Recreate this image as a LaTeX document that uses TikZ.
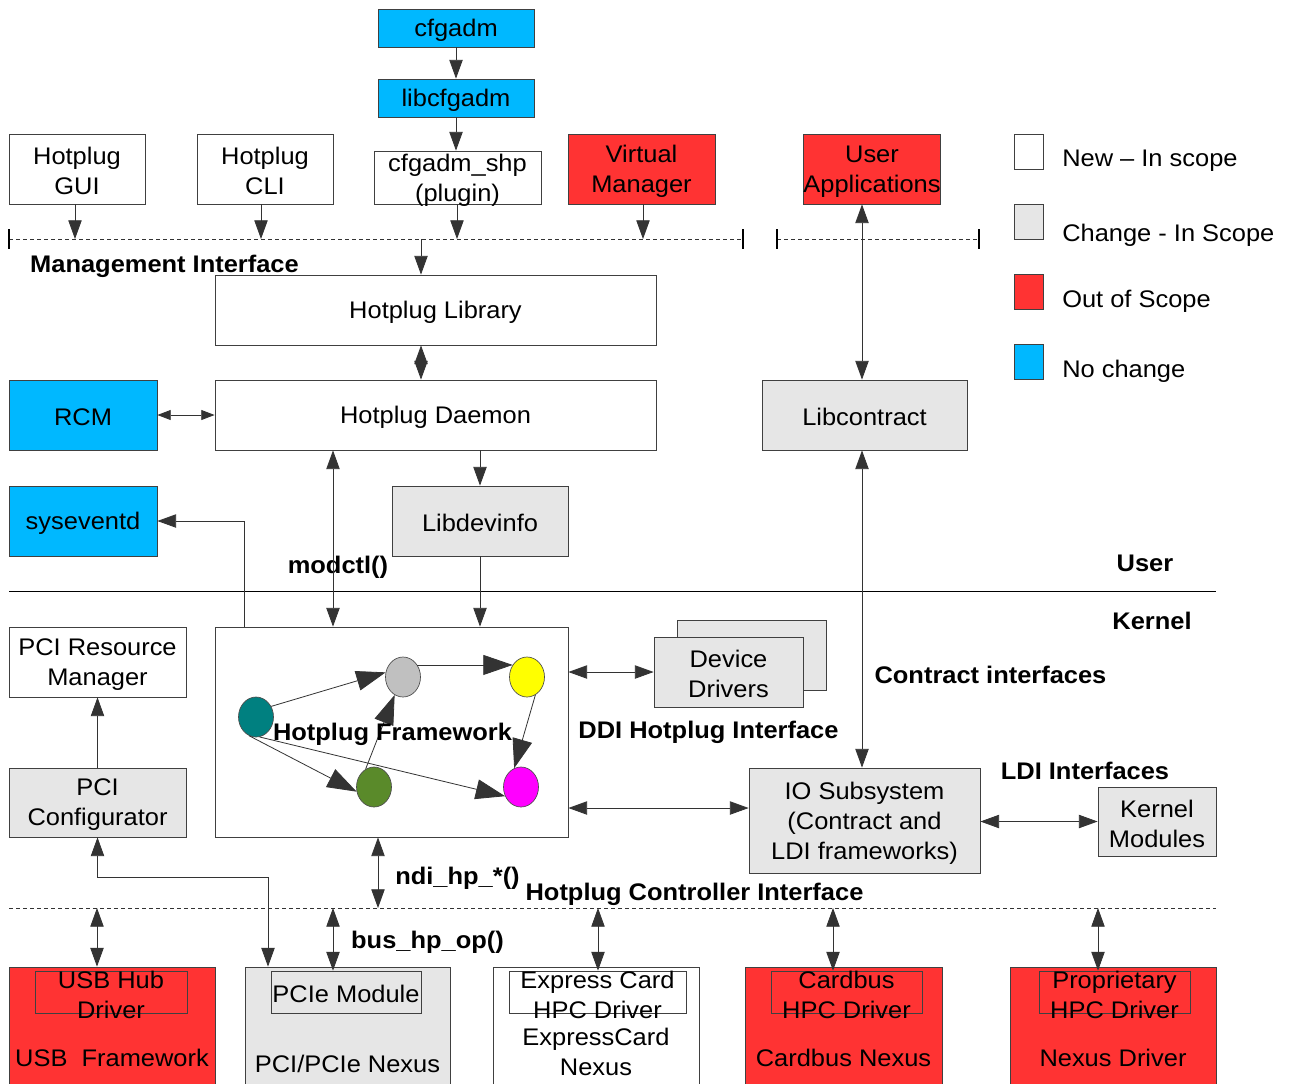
\documentclass[tikz,border=0pt]{standalone}
\usepackage{fontspec}
\setmainfont{Liberation Sans}[FakeStretch=1.06]
\usetikzlibrary{arrows.meta,shapes.geometric,calc}
\definecolor{cyanC}{HTML}{00B8FF}
\definecolor{redC}{HTML}{FF3333}
\definecolor{grayC}{HTML}{E6E6E6}
\definecolor{tealC}{HTML}{008080}
\definecolor{silverC}{HTML}{C0C0C0}
\definecolor{yellowC}{HTML}{FFFF00}
\definecolor{oliveC}{HTML}{5A8A2A}
\definecolor{magC}{HTML}{FF00FF}
\begin{document}
\begin{tikzpicture}[x=0.75pt,y=-0.75pt,
  every node/.style={font=\fontsize{18}{22.5}\selectfont},
  sz/.style 2 args={minimum width=#1*0.75pt, minimum height=#2*0.75pt},
  bx/.style={draw=black!75, line width=0.6pt, inner sep=0pt, align=center, rectangle},
  txt/.style={inner sep=0pt, align=center, yshift=-1.8pt},
  tx/.style={label={[txt]center:{#1}}},
  lbl/.style={font=\fontsize{18}{22.5}\selectfont\bfseries, inner sep=0pt, yshift=-1.8pt},
  con/.style={draw=black!80, line width=0.6pt},
  >={Triangle[length=14pt,width=10pt]},
  sm/.style={con, {Triangle[length=10pt,width=7.5pt]}-{Triangle[length=10pt,width=7.5pt]}},
  big/.style={con, -{Triangle[length=22pt,width=15pt]}},
  dline/.style={draw=black!80, line width=0.5pt, dash pattern=on 3pt off 2.25pt},
  tick/.style={draw=black, line width=1.2pt},
  circ/.style={ellipse, draw=black!70, line width=0.5pt, minimum width=26.25pt, minimum height=30pt, inner sep=0pt}
]
\useasboundingbox (0,0) rectangle (1289,1083);
\clip (0,0) rectangle (1289,1083);
\fill[white] (0,0) rectangle (1289,1083);

% ---------- top boxes ----------
\node[bx, fill=cyanC, sz={156}{38}, tx={cfgadm}] (cfgadm) at (456,28) {};
\node[bx, fill=cyanC, sz={156}{38}, tx={libcfgadm}] (libcfg) at (456,98) {};
\node[bx, sz={167}{53}] (shp) at (457.5,177.5) {};
\node[txt] (shpt) at (457.5,178) {cfgadm\_shp\\(plugin)};
\node[bx, sz={136}{70}, tx={Hotplug\\GUI}] (gui) at (77,169) {};
\node[bx, sz={136}{70}, tx={Hotplug\\CLI}] (cli) at (265,169) {};
\node[bx, fill=redC, sz={147}{70}, tx={Virtual\\Manager}] (vm) at (641.5,169) {};
\node[bx, fill=redC, sz={137}{70}] (ua) at (871.5,169) {};
\node[txt] (uat) at (872,169) {User\\Applications};

% ---------- legend ----------
\node[bx, sz={29}{35}] (lg1) at (1028.5,151.5) {};
\node[bx, fill=grayC, sz={29}{35}] (lg2) at (1028.5,221.5) {};
\node[bx, fill=redC, sz={29}{35}] (lg3) at (1028.5,291.5) {};
\node[bx, fill=cyanC, sz={29}{35}] (lg4) at (1028.5,361.5) {};
\node[txt, anchor=west] (lt1) at (1062,158) {New – In scope};
\node[txt, anchor=west] (lt2) at (1062,233) {Change - In Scope};
\node[txt, anchor=west] (lt3) at (1062,299) {Out of Scope};
\node[txt, anchor=west] (lt4) at (1062,369) {No change};

% ---------- management interface line ----------
\coordinate (mL) at (9,239);
\coordinate (mR) at (743,239);
\coordinate (nL) at (777,239);
\coordinate (nR) at (979,239);
\coordinate (m421) at (421,239);
\draw[dline] (mL) -- (mR);
\draw[dline] (nL) -- (nR);
\draw[tick] ($(mL)+(0,-10)$) -- ($(mL)+(0,10)$);
\draw[tick] ($(mR)+(0,-10)$) -- ($(mR)+(0,10)$);
\draw[tick] ($(nL)+(0,-10)$) -- ($(nL)+(0,10)$);
\draw[tick] ($(nR)+(0,-10)$) -- ($(nR)+(0,10)$);
\node[lbl] (mgmt) at (164.5,264) {Management Interface};

\draw[con,->] (cfgadm) -- (libcfg);
\draw[con,->] (libcfg) -- (shp.north -| libcfg.south);
\draw[con,->] (gui.south -| 75,0) -- (mL -| 75,0);
\draw[con,->] (cli.south -| 261,0) -- (mL -| 261,0);
\draw[con,->] (shp.south -| 457,0) -- (mL -| 457,0);
\draw[con,->] (vm.south -| 643,0) -- (mL -| 643,0);

% ---------- hotplug library / daemon ----------
\node[bx, sz={441}{70}, tx={Hotplug Library}] (lib) at (435.5,310) {};
\node[bx, sz={441}{70}, tx={Hotplug Daemon}] (daemon) at (435.5,415) {};
\node[bx, fill=cyanC, sz={148}{70}, tx={RCM}] (rcm) at (83,415) {};
\node[bx, fill=cyanC, sz={148}{70}, tx={syseventd}] (sysev) at (83,521) {};
\node[bx, fill=grayC, sz={176}{70}, tx={Libdevinfo}] (libdev) at (480,521) {};
\node[bx, fill=grayC, sz={205}{70}, tx={Libcontract}] (libcon) at (864.5,415) {};

\draw[con,->] (m421) -- (m421 |- lib.north);
\draw[con,<->] (lib.south -| m421) -- (daemon.north -| m421);
\draw[sm] (rcm.east) -- (daemon.west);
\draw[con,<->] (ua.south -| 862,0) -- (libcon.north -| 862,0);

% ---------- user / kernel ----------
\coordinate (uk1) at (9,591);
\coordinate (uk2) at (1216,591);
\draw[draw=black, line width=0.6pt] (uk1) -- (uk2);
\node[lbl] (user) at (1145,561) {User};
\node[lbl] (kernel) at (1152,619) {Kernel};
\node[lbl] (modctl) at (338,565) {modctl()};
\node[lbl] (contr) at (990.5,673) {Contract interfaces};

% ---------- framework ----------
\node[bx, sz={353}{210}] (fw) at (391.5,732) {};
\node[circ, fill=tealC] (c1) at (256,717) {};
\node[circ, fill=silverC] (c2) at (403,677) {};
\node[circ, fill=yellowC] (c3) at (527,677) {};
\node[circ, fill=oliveC] (c4) at (374,787) {};
\node[circ, fill=magC] (c5) at (521,787) {};
\draw[big] (c1.35) -- (c2.165);
\draw[big] (c2.40) -- (c3.140);
\draw[big] (c3.-65) -- (c5.110);
\draw[big] (c1.-110) -- (c4.195);
\draw[big] (c1.-80) -- (c5.210);
\draw[big] (c4.115) -- (c2.245);
\node[lbl] (fwt) at (392.5,732) {Hotplug Framework};

\draw[con,->] (libdev.north |- daemon.south) -- (libdev.north);
\draw[con,->] (libdev.south) -- (libdev.south |- fw.north);
\draw[con,<->] (daemon.south -| 333,0) -- (fw.north -| 333,0);
\draw[con,->] (fw.north -| 244,0) |- (sysev.east);

% ---------- device drivers / io ----------
\node[bx, fill=grayC, sz={149}{70}] (ddb) at (751.5,655) {};
\node[bx, fill=grayC, sz={149}{70}, tx={Device\\Drivers}] (ddf) at (728.5,672) {};
\node[bx, fill=grayC, sz={231}{105}, tx={IO Subsystem\\(Contract and\\LDI frameworks)}] (io) at (864.5,820.5) {};
\node[bx, fill=grayC, sz={118}{69}, tx={Kernel\\Modules}] (km) at (1157,821.5) {};
\node[lbl] (ddi) at (708.5,730) {DDI Hotplug Interface};
\node[lbl] (ldi) at (1085,769) {LDI Interfaces};

\draw[con,<->] (fw.east |- ddf.west) -- (ddf.west);
\draw[con,<->] (fw.east |- 0,808) -- (io.west |- 0,808);
\draw[con,<->] (io.east |- km.west) -- (km.west);
\draw[con,<->] (libcon.south -| 862,0) -- (io.north -| 862,0);

% ---------- PCI ----------
\node[bx, sz={177}{70}, tx={PCI Resource\\Manager}] (pcirm) at (97.5,662) {};
\node[bx, fill=grayC, sz={177}{69}, tx={PCI\\Configurator}] (pcicfg) at (97.5,802.5) {};
\draw[con,->] (pcicfg.north) -- (pcirm.south);

% ---------- hotplug controller interface ----------
\coordinate (hL) at (9,908);
\coordinate (hR) at (1216,908);
\draw[dline] (hL) -- (hR);
\draw[con,<->] (fw.south -| 378,0) -- (hL -| 378,0);
\node[lbl] (ndi) at (457.5,876) {ndi\_hp\_*()};
\node[lbl] (hci) at (694.5,892) {Hotplug Controller Interface};
\node[lbl] (bus) at (427.5,940) {bus\_hp\_op()};

% ---------- bottom boxes ----------
\node[bx, fill=redC, sz={206}{133}] (usb) at (112,1033.5) {};
\node[bx, fill=grayC, sz={205}{133}] (pcin) at (347.5,1033.5) {};
\node[bx, sz={206}{133}] (exp) at (596,1033.5) {};
\node[bx, fill=redC, sz={197}{133}] (cb) at (843.5,1033.5) {};
\node[bx, fill=redC, sz={206}{133}] (prop) at (1113,1033.5) {};

\node[bx, sz={152}{42}] (usbi) at (111,992) {};
\node[bx, fill=grayC, sz={150}{42}] (pcim) at (346,992) {};
\node[bx, sz={177}{42}] (expi) at (597.5,992) {};
\node[bx, sz={151}{42}] (cbi) at (846.5,992) {};
\node[bx, sz={151}{42}] (propi) at (1114.5,992) {};

\node[txt] (usbt) at (111,993) {USB Hub\\Driver};
\node[txt] (usbf) at (112,1056) {USB\ \ Framework};
\node[txt] (pcimt) at (346,992) {PCIe Module};
\node[txt] (pcint) at (347.5,1062) {PCI/PCIe Nexus};
\node[txt] (expt) at (597.5,993) {Express Card\\HPC Driver};
\node[txt] (expn) at (596,1050) {ExpressCard\\Nexus};
\node[txt] (cbt) at (846.5,993) {Cardbus\\HPC Driver};
\node[txt] (cbn) at (843.5,1056) {Cardbus Nexus};
\node[txt] (propt) at (1114.5,993) {Proprietary\\HPC Driver};
\node[txt] (propn) at (1113,1056) {Nexus Driver};

\coordinate (bend) at (268,877);
\draw[con,<->] (pcicfg.south) |- (bend) -- (bend |- pcin.north);
\draw[con,<->] (hL -| 97,0) -- (usb.north -| 97,0);
\draw[con,<->] (hL -| 333,0) -- (pcim.north -| 333,0);
\draw[con,<->] (hL -| 598,0) -- (expi.north -| 598,0);
\draw[con,<->] (hL -| 833,0) -- (cbi.north -| 833,0);
\draw[con,<->] (hL -| 1098,0) -- (propi.north -| 1098,0);
\end{tikzpicture}
\end{document}
